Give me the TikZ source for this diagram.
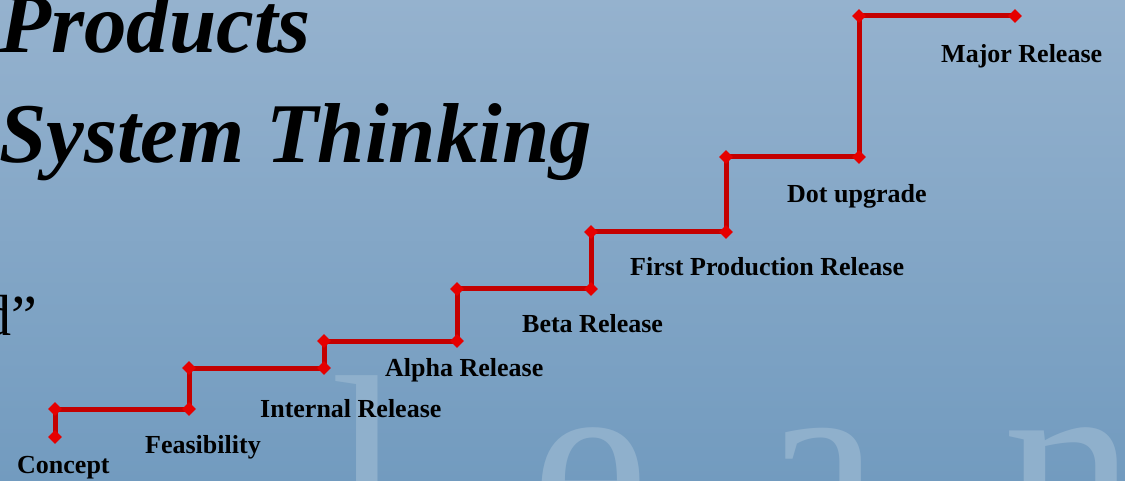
\documentclass[tikz,border=0pt]{standalone}
\usepackage{fontspec}
\setmainfont{Liberation Serif}
\usetikzlibrary{shapes.geometric}

\definecolor{bgtop}{HTML}{95B2CE}
\definecolor{bgbottom}{HTML}{729BBF}
\definecolor{leanfade}{HTML}{8FB0CC}
\definecolor{stairred}{HTML}{C40000}
\definecolor{cornerred}{HTML}{E60000}

\tikzset{
  stepline/.style={draw=stairred, line width=5pt, line join=miter},
  corner/.style={diamond, fill=cornerred, inner sep=0pt, minimum size=14pt},
  steplabel/.style={anchor=base west, inner sep=0pt, font=\fontsize{26}{30}\selectfont\bfseries},
  ghost/.style={anchor=base west, inner sep=0pt, text=leanfade, font=\fontsize{265}{265}\selectfont},
  headline/.style={anchor=base west, inner sep=0pt, font=\fontsize{85}{100}\selectfont\bfseries\itshape},
}

\begin{document}
\begin{tikzpicture}[x=1pt, y=-1pt]
  \useasboundingbox (0,0) rectangle (1125,481);
  \clip (0,0) rectangle (1125,481);
  \shade[top color=bgtop, bottom color=bgbottom] (0,0) rectangle (1125,481);

  % big faint letters in the back
  \node[ghost] (gl) at (330,559) {l};
  \node[ghost] (ge) at (531,552) {e};
  \node[ghost] (ga) at (762,552) {a};
  \node[ghost] (gn) at (1003,552) {n};

  % title
  \node[headline] (title1) at (-1,53) {Products};
  \node[headline] (title2) at (-1,163) {System Thinking};
  \node[anchor=base east, inner sep=0pt, font=\fontsize{58}{60}\selectfont] (quote) at (37,335) {d”};

  % the stairs
  \coordinate (s0) at (55,437);
  \coordinate (s1) at (55,409);
  \coordinate (s2) at (189,409);
  \coordinate (s3) at (189,368);
  \coordinate (s4) at (324,368);
  \coordinate (s5) at (324,341);
  \coordinate (s6) at (457,341);
  \coordinate (s7) at (457,289);
  \coordinate (s8) at (591,289);
  \coordinate (s9) at (591,232);
  \coordinate (s10) at (726,232);
  \coordinate (s11) at (726,157);
  \coordinate (s12) at (859,157);
  \coordinate (s13) at (859,16);
  \coordinate (s14) at (1015,16);
  \draw[stepline] (s0) -- (s1) -- (s2) -- (s3) -- (s4) -- (s5) -- (s6) -- (s7)
    -- (s8) -- (s9) -- (s10) -- (s11) -- (s12) -- (s13) -- (s14);
  \foreach \i in {0,...,14}
    \node[corner] (m\i) at (s\i) {};

  % step names
  \node[steplabel] (concept) at (17,473) {Concept};
  \node[steplabel] (feas) at (145,453) {Feasibility};
  \node[steplabel] (internal) at (260,417) {Internal Release};
  \node[steplabel] (alpha) at (385,376) {Alpha Release};
  \node[steplabel] (beta) at (522,332) {Beta Release};
  \node[steplabel] (first) at (630,276) {First Production Release};
  \node[steplabel] (dot) at (787,203) {Dot upgrade};
  \node[steplabel] (major) at (941,63) {Major Release};
\end{tikzpicture}
\end{document}
